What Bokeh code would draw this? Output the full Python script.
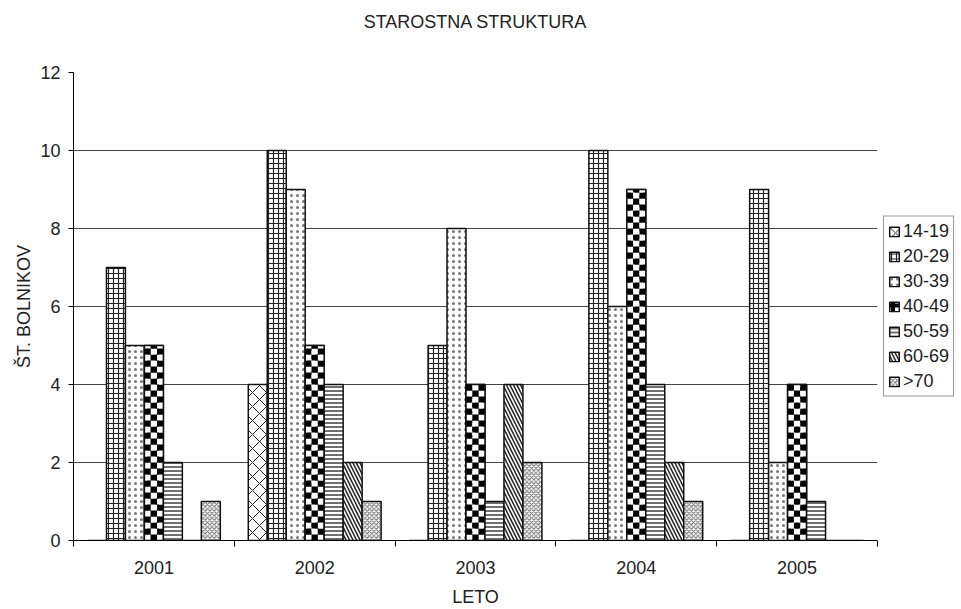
import math
from bokeh.plotting import figure
from bokeh.models import ColumnDataSource, FixedTicker, Legend, LegendItem
from bokeh.embed import file_html
from bokeh.resources import INLINE

years = ["2001", "2002", "2003", "2004", "2005"]
groups = ["14-19", "20-29", "30-39", "40-49", "50-59", "60-69", ">70"]
v_14_19 = [0, 4, 0, 0, 0]
v_20_29 = [7, 10, 5, 10, 9]
v_30_39 = [5, 9, 8, 6, 2]
v_40_49 = [5, 5, 4, 9, 4]
v_50_59 = [2, 4, 1, 4, 1]
v_60_69 = [0, 2, 4, 2, 0]
v_70 = [1, 1, 2, 1, 0]
series = [v_14_19, v_20_29, v_30_39, v_40_49, v_50_59, v_60_69, v_70]
y_ticks = [0, 2, 4, 6, 8, 10, 12]

FONT = "Liberation Sans"
TXT = "#222"

styles = [
    dict(hatch_pattern="x", hatch_scale=14, hatch_weight=1, hatch_color="#222"),
    dict(hatch_pattern="+", hatch_scale=5, hatch_weight=1.2, hatch_color="#222"),
    dict(hatch_pattern=".", hatch_scale=6, hatch_weight=1.3, hatch_color="#777"),
    dict(hatch_pattern="+", hatch_scale=8, hatch_weight=4, hatch_color="black"),
    dict(hatch_pattern="-", hatch_scale=4, hatch_weight=1.3, hatch_color="#222"),
    dict(hatch_pattern="\\", hatch_scale=7, hatch_weight=1.5, hatch_color="#222"),
    dict(hatch_pattern="x", hatch_scale=4.5, hatch_weight=1, hatch_color="#666"),
]

n = len(years)
p = figure(frame_width=804, frame_height=468, output_backend="svg",
           toolbar_location=None, x_range=(0, n), y_range=(0, 12),
           min_border_left=73, min_border_right=0, min_border_top=72,
           min_border_bottom=67)
p.title.text = "STAROSTNA STRUKTURA"
p.title.align = "center"
p.title.vertical_align = "top"
p.title.text_font = FONT
p.title.text_font_size = "18px"
p.title.text_font_style = "normal"
p.title.text_color = TXT
p.title.standoff = 2
p.title.padding = dict(left=0, right=0, top=0, bottom=38)

bw = 0.118
cell_h = 1 / 6.5
items = []
for i, (g, vals) in enumerate(zip(groups, series)):
    xs = [k + 0.5 + (i - 3) * bw for k in range(n)]
    src = ColumnDataSource(dict(x=xs, top=vals))
    r = p.vbar(x="x", top="top", width=bw, source=src, fill_color="white",
               line_color="#111", line_width=1.5, **styles[i])
    items.append(LegendItem(label=g, renderers=[r]))
    if g == "40-49":
        L, R, B, T, C = [], [], [], [], []
        for cx, v in zip(xs, vals):
            rows = math.ceil(v / cell_h - 1e-9)
            for rr in range(rows):
                for c in range(3):
                    L.append(cx - bw / 2 + c * bw / 3)
                    R.append(cx - bw / 2 + (c + 1) * bw / 3)
                    B.append(rr * cell_h)
                    T.append(min((rr + 1) * cell_h, v))
                    C.append("black" if (rr + c) % 2 == 1 else "white")
        p.quad(left=L, right=R, bottom=B, top=T, fill_color=C,
               line_color=None)
        p.vbar(x="x", top="top", width=bw, source=src, fill_color=None,
               line_color="#111", line_width=1.5)

p.outline_line_color = None
p.background_fill_color = "white"
p.xgrid.grid_line_color = None
p.ygrid.grid_line_color = "#444"
p.ygrid.grid_line_width = 1
p.ygrid.ticker = FixedTicker(ticks=y_ticks)
p.ygrid.level = "underlay"

p.yaxis.ticker = FixedTicker(ticks=y_ticks)
p.yaxis.axis_label = "ŠT. BOLNIKOV"
p.xaxis.axis_label = "LETO"
p.xaxis.ticker = FixedTicker(ticks=[k + 0.5 for k in range(n)],
                             minor_ticks=list(range(n + 1)))
p.xaxis.major_label_overrides = {k + 0.5: y for k, y in enumerate(years)}
p.xaxis.major_tick_line_color = None
p.xaxis.minor_tick_line_color = "black"
p.xaxis.minor_tick_out = 6
p.xaxis.minor_tick_in = 0
p.yaxis.minor_tick_line_color = None
p.yaxis.major_tick_line_color = "black"
p.yaxis.major_tick_in = 0
p.yaxis.major_tick_out = 5
for ax in (p.xaxis, p.yaxis):
    ax.axis_line_color = "black"
    ax.major_label_text_font = FONT
    ax.major_label_text_font_size = "18px"
    ax.major_label_text_color = TXT
    ax.axis_label_text_font = FONT
    ax.axis_label_text_font_size = "18px"
    ax.axis_label_text_font_style = "normal"
    ax.axis_label_text_color = TXT
p.xaxis.major_label_standoff = 14
p.xaxis.axis_label_standoff = 10
p.yaxis.major_label_standoff = 8
p.yaxis.axis_label_standoff = 3

legend = Legend(items=items, location="center_left")
legend.border_line_color = "#333"
legend.border_line_width = 1
legend.background_fill_color = "white"
legend.background_fill_alpha = 1
legend.label_text_font = FONT
legend.label_text_font_size = "18px"
legend.label_text_color = TXT
legend.glyph_width = 12
legend.glyph_height = 12
legend.label_height = 21
legend.label_width = 10
legend.spacing = 4
legend.padding = 4
legend.margin = 6
legend.label_standoff = 3
p.add_layout(legend, "right")

open("out.html", "w").write(file_html(p, INLINE))
